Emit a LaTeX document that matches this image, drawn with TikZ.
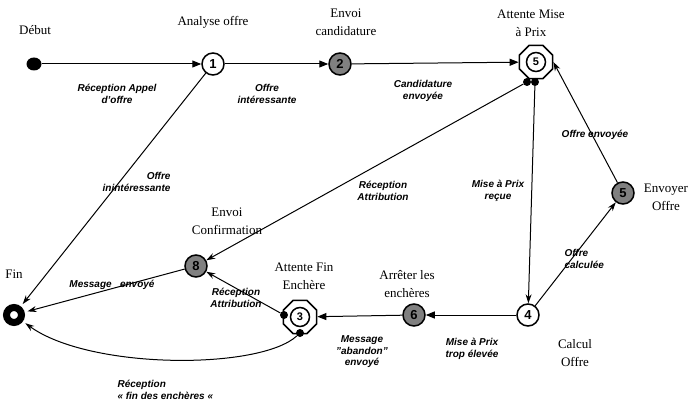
\documentclass[tikz,border=0pt]{standalone}
\usepackage{fontspec}
\setmainfont{Liberation Serif}
\setsansfont{Liberation Sans}
\usetikzlibrary{arrows.meta,shapes.geometric}
\begin{document}
\begin{tikzpicture}[x=1pt,y=-1pt,
  st/.style={circle,draw,line width=1.5pt,fill=white,minimum size=22pt,inner sep=0pt,
    font=\sffamily\bfseries\fontsize{13}{13}\selectfont},
  gst/.style={st,fill=gray},
  oct/.style={regular polygon,regular polygon sides=8,draw,line width=1.5pt,fill=white,minimum size=36pt,inner sep=0pt},
  octin/.style={circle,draw,line width=1.5pt,minimum size=19pt,inner sep=0pt,
    font=\sffamily\bfseries\fontsize{11}{11}\selectfont},
  dotn/.style={circle,fill=black,minimum size=8pt,inner sep=0pt},
  initn/.style={ellipse,fill=black,minimum width=15pt,minimum height=13pt,inner sep=0pt},
  finn/.style={circle,draw,line width=7pt,minimum size=15pt,inner sep=0pt},
  stname/.style={font=\fontsize{13}{18}\selectfont,align=center},
  elab/.style={font=\sffamily\bfseries\itshape\fontsize{10}{11.5}\selectfont,align=center},
  tri/.style={line width=1pt,-{Triangle[length=9pt,width=7pt]}},
  stl/.style={line width=1pt,-{Stealth[length=9pt,width=6pt]}}
]
\useasboundingbox (0,0) rectangle (691,404);

% states
\node[initn] (deb) at (34,64) {};
\node[st] (n1) at (213,64) {1};
\node[gst] (n2) at (340,64) {2};
\node[oct] (o5) at (536,62) {};
\node[octin] (o5i) at (536,62) {5};
\node[dotn] (d5a) at (527,82) {};
\node[dotn] (d5b) at (535,82) {};
\node[gst] (n5) at (623,193) {5};
\node[st] (n4) at (528,315) {4};
\node[gst] (n6) at (414,315) {6};
\node[oct] (o3) at (300,317) {};
\node[octin] (o3i) at (300,317) {3};
\node[dotn] (d3a) at (284,315) {};
\node[dotn] (d3b) at (300,333) {};
\node[gst] (n8) at (196,266) {8};
\node[finn] (fin) at (14,315) {};

% state names
\node[stname] (tdeb) at (35,30) {Début};
\node[stname] (tn1) at (213,22) {Analyse offre};
\node[stname] (tn2) at (346,22) {Envoi\\candidature};
\node[stname] (to5) at (531,23) {Attente Mise\\à Prix};
\node[stname] (tn5) at (666,197) {Envoyer\\Offre};
\node[stname] (tn8) at (227,221) {Envoi\\Confirmation};
\node[stname] (to3) at (304,276) {Attente Fin\\Enchère};
\node[stname] (tn6) at (407,284) {Arrêter les\\enchères};
\node[stname] (tn4) at (575,353) {Calcul\\Offre};
\node[stname] (tfin) at (14,274) {Fin};

% connectors
\draw[tri] (deb) -- (n1);
\draw[tri] (n1) -- (n2);
\draw[tri] (n2) -- (o5);
\draw[stl,shorten >=3pt] (n1) -- (fin);
\draw[stl] (d5a) -- (n8);
\draw[stl] (d5b) -- (n4);
\draw[stl] (n4) -- (n5);
\draw[stl] (n5) -- (o5.east);
\draw[tri] (n4) -- (n6);
\draw[tri] (n6) -- (o3);
\draw[stl] (d3a) -- (n8);
\draw[stl,shorten >=3pt] (n8) -- (fin);
\draw[stl,shorten >=3pt] (d3b) .. controls (260,370) and (90,370) .. (fin);

% edge labels
\node[elab] (l1) at (117,94) {Réception Appel\\d'offre};
\node[elab] (l2) at (267,94) {Offre\\intéressante};
\node[elab] (l3) at (423,91) {Candidature\\envoyée};
\node[elab] (l4) at (595,135) {Offre envoyée};
\node[elab,align=right,anchor=east] (l5) at (174,182) {Offre\\inintéressante};
\node[elab] (l6) at (383,191) {Réception\\Attribution};
\node[elab] (l7) at (498,191) {Mise à Prix\\reçue};
\node[elab,align=left,anchor=west] (l8) at (561,259) {Offre\\calculée};
\node[elab] (l9) at (112,285) {Message\ \ \ envoyé};
\node[elab] (l10) at (236,298) {Réception\\Attribution};
\node[elab] (l11) at (362,352) {Message\\"abandon"\\envoyé};
\node[elab] (l12) at (472,349) {Mise à Prix\\trop élevée};
\node[elab,align=left,anchor=west] (l13) at (114,390) {Réception\\« fin des enchères «};
\end{tikzpicture}
\end{document}
